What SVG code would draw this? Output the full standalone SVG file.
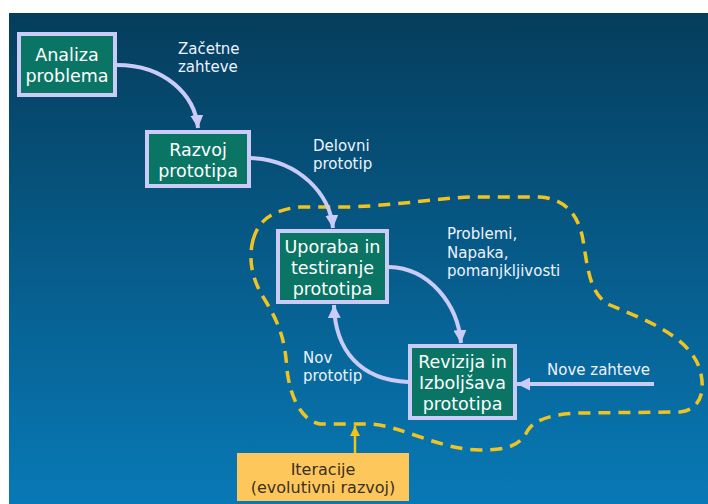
<svg xmlns="http://www.w3.org/2000/svg" width="708" height="504" viewBox="0 0 708 504">
<defs>
<linearGradient id="bg" x1="0" y1="0" x2="0" y2="1">
<stop offset="0" stop-color="#053d5c"/>
<stop offset="1" stop-color="#0879b6"/>
</linearGradient>
<marker id="ah" viewBox="0 0 12 12" markerUnits="userSpaceOnUse" markerWidth="13" markerHeight="13" refX="12" refY="6" orient="auto">
<path d="M0,0 L12,6 L0,12 z" fill="#cbcbf7"/>
</marker>
<marker id="ahy" viewBox="0 0 10 10" markerUnits="userSpaceOnUse" markerWidth="10" markerHeight="10" refX="10" refY="5" orient="auto">
<path d="M0,0 L10,5 L0,10 z" fill="#f2c418"/>
</marker>
</defs>
<style>
.box{fill:#0a7565;stroke:#cbcbf7;stroke-width:4}
.nt{font-family:"DejaVu Sans",Verdana,sans-serif;font-size:17.5px;fill:#ffffff;text-anchor:middle}
.lb{font-family:"DejaVu Sans",Verdana,sans-serif;font-size:15px;fill:#eef2ff}
.con{fill:none;stroke:#cbcbf7;stroke-width:4}
.it{font-family:"DejaVu Sans",Verdana,sans-serif;font-size:16px;fill:#3a3020;text-anchor:middle}
</style>
<rect x="0" y="0" width="708" height="504" fill="#ffffff"/>
<rect x="9" y="13" width="699" height="491" fill="url(#bg)"/>

<path id="blob" d="M253,240 C258,222 270,210 300,207 L350,207 C400,205 440,198 470,197 L540,197 C560,198 578,210 583,240 C588,270 590,295 610,305 C640,318 690,335 700,370 C706,392 700,410 680,412 L580,413 C550,414 535,420 528,430 C520,445 510,450 480,450 C440,450 400,425 370,424 L320,424 C300,420 290,395 287,370 C285,340 280,325 265,300 C252,280 248,260 253,240 Z" fill="none" stroke="#f0c420" stroke-width="3.5" stroke-dasharray="12 8"/>

<g id="connectors">
<path class="con" d="M117,65 C165,65 195,95 198,128" marker-end="url(#ah)"/>
<path class="con" d="M251,158 C300,160 330,195 333,228" marker-end="url(#ah)"/>
<path class="con" d="M389,267 C430,268 458,305 461,343" marker-end="url(#ah)"/>
<path class="con" d="M408,382 C360,380 335,350 334,305" marker-end="url(#ah)"/>
<path class="con" d="M654,384 L517,384" marker-end="url(#ah)"/>
<path d="M355,455 L355,426" fill="none" stroke="#f2c418" stroke-width="2.5" marker-end="url(#ahy)"/>
</g>

<g id="labels">
<text class="lb" x="178" y="54">Začetne</text>
<text class="lb" x="178" y="72">zahteve</text>
<text class="lb" x="313" y="151">Delovni</text>
<text class="lb" x="313" y="169">prototip</text>
<text class="lb" x="447" y="239">Problemi,</text>
<text class="lb" x="447" y="258">Napaka,</text>
<text class="lb" x="447" y="276">pomanjkljivosti</text>
<text class="lb" x="303" y="363">Nov</text>
<text class="lb" x="303" y="381">prototip</text>
<text class="lb" x="547" y="375">Nove zahteve</text>
</g>

<g id="analiza">
<rect class="box" x="19" y="34" width="96" height="61"/>
<text class="nt" x="67" y="61">Analiza</text>
<text class="nt" x="67" y="82">problema</text>
</g>
<g id="razvoj">
<rect class="box" x="147" y="132" width="102" height="54"/>
<text class="nt" x="198" y="156">Razvoj</text>
<text class="nt" x="198" y="177">prototipa</text>
</g>
<g id="uporaba">
<rect class="box" x="278" y="231" width="109" height="71"/>
<text class="nt" x="332.5" y="253">Uporaba in</text>
<text class="nt" x="332.5" y="274">testiranje</text>
<text class="nt" x="332.5" y="295">prototipa</text>
</g>
<g id="revizija">
<rect class="box" x="410" y="346" width="105" height="72"/>
<text class="nt" x="462.5" y="368">Revizija in</text>
<text class="nt" x="462.5" y="389">Izboljšava</text>
<text class="nt" x="462.5" y="410">prototipa</text>
</g>
<g id="iteracije">
<rect x="237" y="453" width="172" height="48" fill="#fec75c"/>
<text class="it" x="323" y="475">Iteracije</text>
<text class="it" x="323" y="493">(evolutivni razvoj)</text>
</g>
</svg>
